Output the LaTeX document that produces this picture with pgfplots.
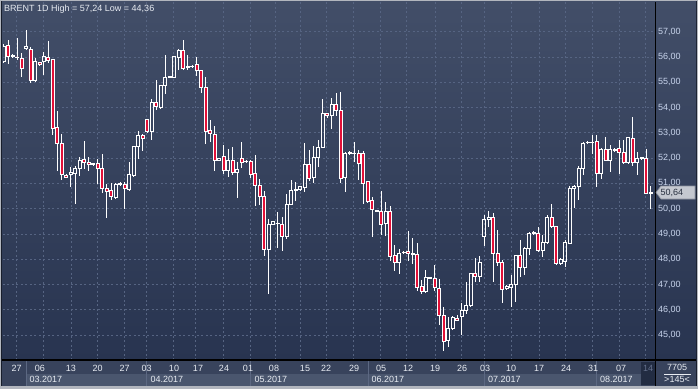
\documentclass[border=0pt]{standalone}
\usepackage{pgfplots}
\pgfplotsset{compat=1.18}
\usepackage{pgfplotstable}
\usepackage{fontspec}
\setmainfont{Liberation Sans}

\definecolor{outergray}{RGB}{178,182,190}
\definecolor{framedark}{RGB}{24,30,44}
\definecolor{bgtop}{RGB}{66,78,104}
\definecolor{bgbot}{RGB}{40,52,80}
\definecolor{daterow}{RGB}{56,67,92}
\definecolor{monthbox}{RGB}{74,86,110}
\definecolor{sepline}{RGB}{92,104,130}
\definecolor{darkbox}{RGB}{34,44,66}
\definecolor{gridc}{RGB}{86,100,130}
\definecolor{ylab}{RGB}{200,212,236}
\definecolor{textc}{RGB}{232,236,242}
\definecolor{dimtext}{RGB}{100,112,140}
\definecolor{candlered}{RGB}{226,16,56}
\definecolor{pricefill}{RGB}{196,200,208}
\definecolor{priceedge}{RGB}{140,146,158}
\definecolor{pricetext}{RGB}{40,48,64}

\pgfplotstableread{
i O H L C
0 55.81 56.50 55.75 56.43
1 56.47 56.67 55.74 56.03
2 56.03 56.10 55.97 56.05
3 56.00 56.77 55.90 55.97
4 55.94 56.14 55.21 55.54
5 56.33 57.08 56.27 56.40
6 56.30 56.38 54.97 55.08
7 55.08 55.94 55.00 55.81
8 55.78 55.81 55.68 55.70
9 55.81 56.20 55.28 56.03
10 55.98 56.63 55.77 55.85
11 55.91 55.93 52.90 53.16
12 53.20 53.86 51.50 52.56
13 52.56 52.96 51.13 51.37
14 51.33 51.37 51.20 51.24
15 51.34 51.66 50.84 51.42
16 51.40 51.70 50.20 51.60
17 51.60 52.06 51.30 51.90
18 51.93 52.66 51.57 51.83
19 51.83 52.03 51.50 51.74
20 51.74 51.80 51.70 51.77
21 51.77 51.97 50.97 51.60
22 51.60 52.15 50.60 50.81
23 50.80 50.97 49.65 50.68
24 50.71 51.02 50.35 50.48
25 50.44 51.00 50.37 50.97
26 50.97 51.04 50.90 51.00
27 50.97 51.04 49.98 50.81
28 50.77 51.86 50.70 51.34
29 51.30 52.46 51.24 52.46
30 52.46 53.09 51.97 52.89
31 52.89 52.96 52.30 52.76
32 53.53 53.55 52.99 53.07
33 53.07 54.35 52.70 54.19
34 54.19 55.08 53.89 54.05
35 54.02 54.90 53.95 54.88
36 54.88 56.07 54.55 55.19
37 55.20 55.25 55.15 55.23
38 55.21 56.05 55.20 56.03
39 56.00 56.30 55.48 56.27
40 56.27 56.67 55.50 55.54
41 55.58 56.07 55.50 55.64
42 55.62 55.68 55.55 55.64
43 55.70 55.98 55.24 55.48
44 55.45 55.48 54.58 54.81
45 54.79 55.19 52.56 53.07
46 53.09 53.52 52.63 52.96
47 52.95 53.28 51.50 51.92
48 51.92 52.00 51.90 51.99
49 52.07 52.51 51.39 51.53
50 51.53 52.36 51.24 51.89
51 51.89 52.42 51.34 51.43
52 51.43 51.83 50.42 51.57
53 52.00 52.62 51.60 51.83
54 51.86 51.92 51.80 51.87
55 51.86 51.92 51.21 51.37
56 51.39 52.13 50.12 50.93
57 50.93 51.17 50.16 50.49
58 50.49 50.71 48.11 48.37
59 48.37 49.59 46.63 49.39
60 49.39 49.53 49.36 49.49
61 49.40 49.88 48.44 49.42
62 49.39 49.68 48.34 48.91
63 48.91 50.58 48.80 50.18
64 50.18 51.14 50.16 50.74
65 50.73 51.04 50.29 50.75
66 50.75 50.90 50.73 50.88
67 50.84 52.59 50.67 51.76
68 51.76 52.33 51.11 51.21
69 51.24 52.49 51.00 52.03
70 52.03 52.71 51.63 52.42
71 52.42 54.33 52.40 53.78
72 53.78 53.80 53.60 53.70
73 53.70 54.37 53.16 54.13
74 54.13 54.57 53.67 53.90
75 53.90 54.62 51.00 51.21
76 51.24 52.26 50.66 52.20
77 52.20 52.29 52.13 52.22
78 52.18 52.64 51.83 52.20
79 52.20 52.33 51.14 51.80
80 52.20 52.29 50.18 51.01
81 51.07 51.11 50.21 50.29
82 50.34 50.47 48.89 49.95
83 49.92 49.95 49.85 49.90
84 49.88 50.71 48.97 49.37
85 49.42 50.25 48.93 49.90
86 49.90 50.09 47.92 48.12
87 48.14 48.58 47.53 47.88
88 47.88 48.41 47.40 48.21
89 48.26 48.33 48.22 48.28
90 48.30 49.13 47.93 48.21
91 48.20 48.83 47.83 48.21
92 48.18 48.63 46.74 46.89
93 46.93 47.18 46.63 46.74
94 46.74 47.59 46.67 47.28
95 47.25 47.30 47.22 47.26
96 47.24 47.76 46.75 46.88
97 46.84 47.20 45.39 45.78
98 45.78 46.12 44.36 44.74
99 44.78 45.72 44.51 45.26
100 45.26 45.75 45.20 45.70
101 45.66 45.79 45.57 45.59
102 45.72 46.25 45.00 45.96
103 45.96 47.11 45.83 46.18
104 46.18 47.45 46.12 47.43
105 47.43 48.03 47.10 47.33
106 47.33 48.12 47.10 47.89
107 48.92 49.74 48.51 49.57
108 49.57 49.91 49.28 49.64
109 49.64 49.83 47.11 48.22
110 48.22 49.14 47.72 47.86
111 47.86 47.96 46.25 46.80
112 46.84 46.97 46.78 46.93
113 46.88 47.37 46.09 47.00
114 47.00 48.16 46.32 48.14
115 48.14 48.75 47.28 47.67
116 47.67 48.49 47.37 48.42
117 48.42 49.08 48.16 49.01
118 49.01 49.10 48.95 49.04
119 49.01 49.28 48.29 48.33
120 48.33 48.95 48.10 48.68
121 48.68 49.74 48.62 49.64
122 49.64 50.17 49.25 49.28
123 49.28 49.30 47.76 47.83
124 47.83 48.03 47.80 47.99
125 47.93 48.75 47.70 48.68
126 48.64 50.88 48.62 50.79
127 50.79 50.92 50.04 50.89
128 50.89 51.67 50.36 51.58
129 51.58 52.63 51.32 52.59
130 52.61 52.66 52.58 52.63
131 52.60 52.93 52.17 52.62
132 52.67 52.93 50.86 51.41
133 51.41 52.41 51.18 52.33
134 52.33 52.83 51.87 51.91
135 51.91 52.50 51.45 52.33
136 52.30 52.40 52.28 52.36
137 52.37 52.72 51.36 52.24
138 52.24 52.72 51.75 51.84
139 51.84 52.82 51.75 52.80
140 52.76 53.62 51.67 51.84
141 51.84 52.24 51.32 51.97
142 51.97 52.03 51.95 52.01
143 51.97 52.37 50.57 50.62
144 50.62 50.88 50.00 50.64
}\candles

\begin{document}
\begin{tikzpicture}[x=1pt,y=1pt,font=\fontsize{9}{10}\selectfont]
\useasboundingbox (0,0) rectangle (698,389);
% frame and panels
\fill[outergray] (0,0) rectangle (698,389);
\fill[framedark] (1,3) rectangle (697,388);
\shade[top color=bgtop, bottom color=bgbot] (2,29) rectangle (696,387);
\fill[daterow] (2,3.5) rectangle (696,28);
\foreach \a/\b in {26/146.7,146.7/250.7,250.7/368,368/484.7,484.7/596.3,596.3/640.7}{
  \fill[monthbox] (\a,3.5) rectangle (\b,15);
  \draw[sepline,line width=0.8pt] (\a,3.5) -- (\a,28);
}
\fill[darkbox] (640.7,4) rectangle (654.5,27.5);

% grid, wicks and price scale
\begin{axis}[at={(3pt,29pt)}, anchor=south west, scale only axis,
  width=652pt, height=358pt,
  xmin=-0.111, xmax=144.97, ymin=44.013, ymax=58.175,
  axis line style={draw=none}, major tick length=0pt,
  xtick={2.8,8.9,15,21,26.9,31.9,37.8,42.8,48.9,55,60.4,66.1,71.9,77.8,83.8,89.7,96,102,107,113.1,119.2,125.1,131,137,142.9},
  xticklabels={},
  ytick={45,46,...,57},
  xmajorgrids, ymajorgrids,
  major grid style={draw=gridc, dash pattern=on 2pt off 2.5pt, line width=0.8pt},
  yticklabel pos=right,
  yticklabel style={font=\fontsize{9}{10}\selectfont, text=ylab, anchor=west, inner sep=0pt, xshift=3pt,
    /pgf/number format/fixed, /pgf/number format/fixed zerofill,
    /pgf/number format/precision=2, /pgf/number format/use comma},
  /pgf/number format/assume math mode=true,
]
\addplot [draw=none, forget plot,
  error bars/.cd, y dir=plus, y explicit, error mark=none,
  error bar style={draw=white, solid, line width=0.9pt}]
  table [x=i, y expr={max(\thisrow{O},\thisrow{C})},
         y error plus expr={\thisrow{H}-max(\thisrow{O},\thisrow{C})}] {\candles};
\addplot [draw=none, forget plot,
  error bars/.cd, y dir=minus, y explicit, error mark=none,
  error bar style={draw=white, solid, line width=0.9pt}]
  table [x=i, y expr={min(\thisrow{O},\thisrow{C})},
         y error minus expr={min(\thisrow{O},\thisrow{C})-\thisrow{L}}] {\candles};
\end{axis}

% candle bodies
\begin{axis}[at={(3pt,29pt)}, anchor=south west, scale only axis,
  width=652pt, height=358pt,
  xmin=-0.111, xmax=144.97, ymin=44.013, ymax=58.175,
  hide axis, ybar stacked, bar width=3pt]
\addplot [draw=none, fill=none] table [x=i, y expr={min(\thisrow{O},\thisrow{C})}] {\candles};
\addplot [draw=white, fill=none, line width=0.9pt] table [x=i, y expr={max(\thisrow{C}-\thisrow{O},0)}] {\candles};
\addplot [draw=white, fill=candlered, line width=0.9pt] table [x=i, y expr={max(\thisrow{O}-\thisrow{C},0)}] {\candles};
\end{axis}

\draw[black, line width=1.2pt] (2,29) -- (696,29);
\draw[black, line width=1pt] (655,3) -- (655,387);

% title
\node[anchor=base west, inner sep=0pt, text=textc] at (4,377.7) {BRENT 1D High = 57,24 Low = 44,36};

% day labels
\foreach \x/\t in {16.7/27,40/06,71/13,97.7/20,124.7/27,146.7/03,174/10,198/17,224/24,248/01,274/08,305/15,326/22,354/29,381/05,408/12,435/19,462/26,485/03,511/10,539/17,566/24,593/31,621/07}{
  \node[inner sep=0pt, text=textc] at (\x,20.7) {\t};
}
\node[inner sep=0pt, text=dimtext] at (648,20.7) {14};

% month labels
\foreach \x/\t in {29.5/03.2017,150.5/04.2017,254.3/05.2017,371.5/06.2017,488/07.2017,600/08.2017}{
  \node[anchor=west, inner sep=0pt, text=textc] at (\x,9.5) {\t};
}

% bottom right counters
\node[inner sep=0pt, text=textc] at (677,22) {7705};
\draw[textc, line width=0.6pt] (664,15) -- (691,15);
\node[inner sep=0pt, text=textc] at (677,9.3) {>145<};

% last price marker
\draw[fill=pricefill, draw=priceedge, line width=0.6pt] (656,196.5) -- (661,203) -- (695,203) -- (695,190) -- (661,190) -- cycle;
\node[anchor=west, inner sep=0pt, text=pricetext] at (660.5,196.5) {50,64};
\end{tikzpicture}
\end{document}
